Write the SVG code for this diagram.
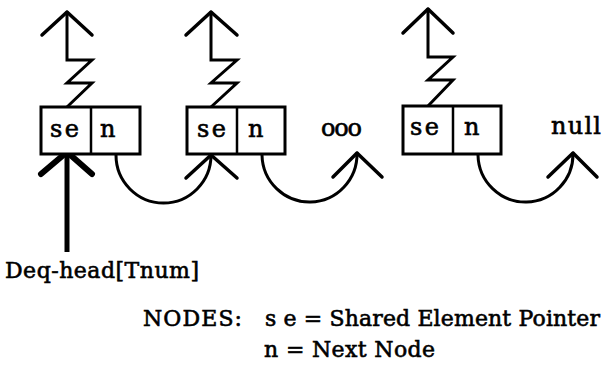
<svg xmlns="http://www.w3.org/2000/svg" width="607" height="366" viewBox="0 0 607 366">
  <style>
    .box { fill: #fff; stroke: #000; stroke-width: 3; }
    .ln { fill: none; stroke: #000; stroke-width: 3; stroke-linejoin: miter; stroke-linecap: round; }
    .head { fill: none; stroke: #000; stroke-width: 3.5; stroke-linecap: round; stroke-linejoin: round; }
    .thick { fill: none; stroke: #000; stroke-width: 6; stroke-linecap: round; stroke-linejoin: round; }
    text { font-family: "DejaVu Serif", "Liberation Serif", serif; fill: #000; stroke: #000; stroke-width: 0.6; }
    .cell { font-size: 24px; }
    .lbl { font-size: 22px; }
  </style>
  <rect width="607" height="366" fill="#fff"/>

  <!-- connectors: shared-element pointers (zigzags), next links (arcs) and head pointer -->
  <g id="connectors">
    <!-- zigzag pointers up from each se cell -->
    <path class="ln" d="M67,12 V60 H92 L67,83 H92 L67,107"/>
    <path class="head" d="M42,35 L67,12 L92,35"/>
    <path class="ln" d="M211,12 V60 H237 L211,83 H237 L211,107"/>
    <path class="head" d="M186,35 L211,12 L237,35"/>
    <path class="ln" d="M428,9 V57 H453 L428,80 H453 L428,106"/>
    <path class="head" d="M403,33 L428,9 L453,33"/>

    <!-- next links -->
    <path class="ln" d="M116,155 A47.5,48 0 0 0 211,155"/>
    <path class="head" d="M186,178 L211,155 L237,178"/>
    <path class="ln" d="M262,155 A47.5,48 0 0 0 357,153"/>
    <path class="head" d="M333,177 L357,153 L382,177"/>
    <path class="ln" d="M478,155 A47.5,48 0 0 0 573,153"/>
    <path class="head" d="M548,177 L573,153 L597,177"/>

    <!-- head pointer -->
    <path class="thick" d="M41,174 L67,152 L92,174"/>
    <path fill="none" stroke="#000" stroke-width="5" d="M67,153 V252"/>
  </g>

  <g id="node1">
    <rect class="box" x="41" y="107" width="99" height="47"/>
    <line x1="91" y1="107" x2="91" y2="154" stroke="#000" stroke-width="2.5"/>
    <text class="cell" x="50" y="137" textLength="29" lengthAdjust="spacing">se</text>
    <text class="cell" x="100" y="137">n</text>
  </g>

  <g id="node2">
    <rect class="box" x="187" y="107" width="98" height="47"/>
    <line x1="237" y1="107" x2="237" y2="154" stroke="#000" stroke-width="2.5"/>
    <text class="cell" x="197" y="137" textLength="29" lengthAdjust="spacing">se</text>
    <text class="cell" x="248" y="137">n</text>
  </g>

  <g id="node3">
    <rect class="box" x="403" y="106" width="98" height="48"/>
    <line x1="453" y1="106" x2="453" y2="154" stroke="#000" stroke-width="2.5"/>
    <text class="cell" x="410" y="135" textLength="29" lengthAdjust="spacing">se</text>
    <text class="cell" x="464" y="135">n</text>
  </g>

  <g id="labels">
    <text class="cell" x="321" y="136" textLength="41" lengthAdjust="spacing">ooo</text>
    <text class="cell" x="551" y="134" textLength="50" lengthAdjust="spacing">null</text>
    <text class="lbl" x="5" y="278" textLength="194" lengthAdjust="spacing">Deq-head[Tnum]</text>
    <text class="lbl" x="143" y="326" textLength="99" lengthAdjust="spacing">NODES:</text>
    <text class="lbl" x="265" y="326" textLength="335" lengthAdjust="spacing">s e = Shared Element Pointer</text>
    <text class="lbl" x="264" y="357" textLength="171" lengthAdjust="spacing">n = Next Node</text>
  </g>
</svg>
